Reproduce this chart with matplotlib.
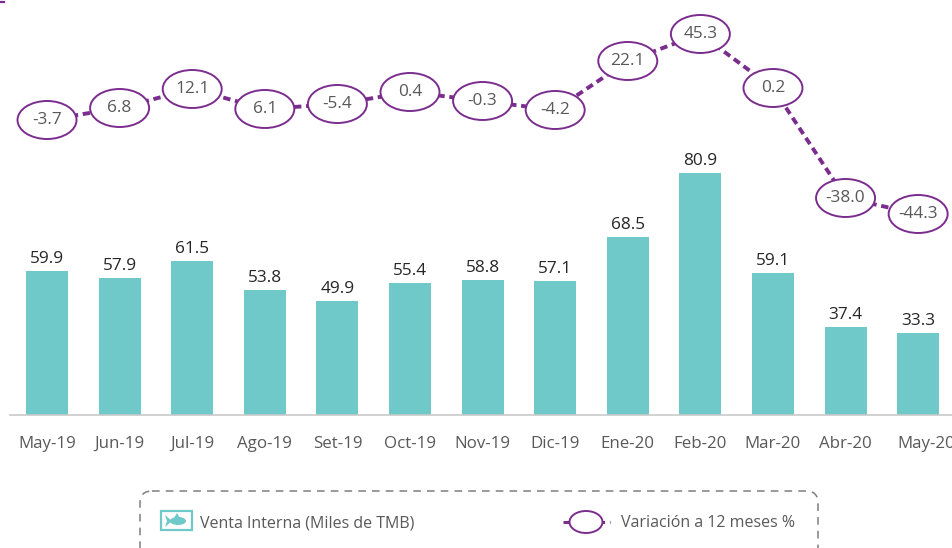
import matplotlib
matplotlib.use('Agg')
import matplotlib.pyplot as plt
from matplotlib.patches import Ellipse, FancyBboxPatch, Polygon, Rectangle
from matplotlib.transforms import ScaledTranslation

plt.rcParams['font.family'] = ['Open Sans', 'DejaVu Sans']

meses = ['May-19', 'Jun-19', 'Jul-19', 'Ago-19', 'Set-19', 'Oct-19', 'Nov-19',
         'Dic-19', 'Ene-20', 'Feb-20', 'Mar-20', 'Abr-20', 'May-20']
venta = [59.9, 57.9, 61.5, 53.8, 49.9, 55.4, 58.8, 57.1, 68.5, 80.9, 59.1, 37.4, 33.3]
variacion = [-3.7, 6.8, 12.1, 6.1, -5.4, 0.4, -0.3, -4.2, 22.1, 45.3, 0.2, -38.0, -44.3]
# the source chart is hand drawn: heights do not scale with the printed values
venta_altura = [144, 137, 154, 125, 114, 132, 135, 134, 178, 242, 142, 88, 82]
variacion_nivel = [295, 307, 326, 306, 311, 323, 314, 305, 354, 381, 327, 217, 201]

TEAL = '#6fc9c9'
PURPLE = '#7b2d8e'
GRAY = '#595959'

W, H = 953, 548
BASE = 415
fig = plt.figure(figsize=(W / 100, H / 100), dpi=100)
ax = fig.add_axes([10 / W, (H - BASE) / H, (W - 10) / W, BASE / H])
ax.set_xlim(-0.51, 12.48)
ax.set_ylim(0, BASE)
unit = (W - 10) / 12.99  # pixels per month

x = list(range(len(meses)))
ax.bar(x, venta_altura, width=42 / unit, color=TEAL, zorder=2)
for i, (h, v) in enumerate(zip(venta_altura, venta)):
    ax.text(i, h + 4, f'{v:.1f}', ha='center', va='bottom', fontsize=12.4, color='#262626')

ax.plot(x, variacion_nivel, color=PURPLE, lw=2.8, ls=(0, (1.9, 1.2)), zorder=3)
for i, (n, v) in enumerate(zip(variacion_nivel, variacion)):
    ax.add_patch(Ellipse((i, n), 59 / unit, 38, fc='white', ec=PURPLE, lw=1.4, zorder=4))
    ax.text(i, n, f'{v:.1f}', ha='center', va='center', fontsize=12.4, color=GRAY, zorder=5)

ax.set_xticks(x, meses)
ax.tick_params(axis='x', length=0, pad=15, labelsize=12.2, labelcolor=GRAY)
last = ax.get_xticklabels()[-1]
last.set_transform(last.get_transform() + ScaledTranslation(6 / 72, 0, fig.dpi_scale_trans))
ax.set_yticks([])
for s in ['top', 'left', 'right']:
    ax.spines[s].set_visible(False)
ax.spines['bottom'].set_color('#c9c9c9')
ax.spines['bottom'].set_linewidth(1.2)

# legend, drawn in an overlay with pixel coordinates (y down)
ov = fig.add_axes([0, 0, 1, 1], facecolor='none')
ov.set_xlim(0, W)
ov.set_ylim(H, 0)
ov.axis('off')
ov.add_patch(FancyBboxPatch((140, 491), 678, 80, boxstyle='round,pad=0,rounding_size=12',
                            fc='none', ec='#7f7f7f', lw=1.1, ls=(0, (5, 4))))
ov.add_patch(Rectangle((161, 511), 31, 19, fc='white', ec=TEAL, lw=1.6))
ov.add_patch(Ellipse((178, 521), 16, 8, fc=TEAL, ec='none'))
ov.add_patch(Polygon([(172, 521), (165, 515), (167, 521), (165, 527)], fc=TEAL, ec='none'))
ov.add_patch(Polygon([(174, 518), (177, 513), (180, 518)], fc=TEAL, ec='none'))
ov.text(200, 523, 'Venta Interna (Miles de TMB)', va='center', ha='left', fontsize=11.5, color=GRAY)
ov.plot([563, 610], [522, 522], color=PURPLE, lw=2.2, ls=(0, (2.2, 1.6)))
ov.add_patch(Ellipse((586, 522), 33, 22, fc='white', ec=PURPLE, lw=1.4, zorder=3))
ov.text(621, 523, 'Variación a 12 meses %', va='center', ha='left', fontsize=11.5, color=GRAY)
ov.plot([0, 4], [2, 2], color=PURPLE, lw=1.6)

fig.savefig('out.png', dpi=100)
plt.close(fig)
